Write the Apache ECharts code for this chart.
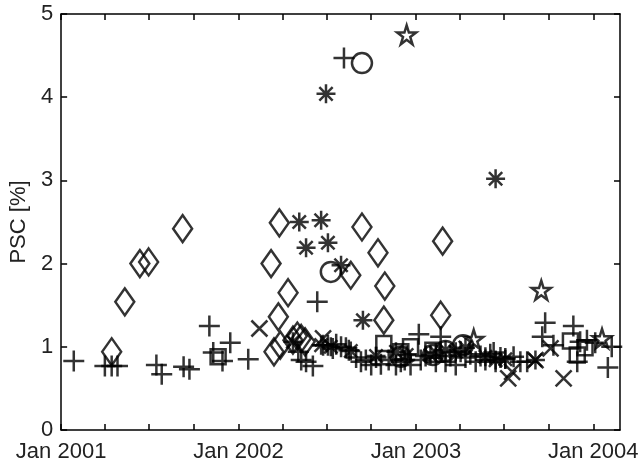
<!DOCTYPE html>
<html>
<head>
<meta charset="utf-8">
<script src="https://cdn.jsdelivr.net/npm/echarts@6/dist/echarts.min.js"></script>
<style>
html, body { margin: 0; padding: 0; background: #fff; }
#chart { width: 642px; height: 469px; }
</style>
</head>
<body>
<div id="chart"></div>
<script>
// PSC values by marker type, [date, %]
var plusPts = [
    ['2001-01-27', 0.83], ['2001-04-01', 0.77], ['2001-04-15', 0.77], ['2001-04-27', 0.77],
    ['2001-07-16', 0.78], ['2001-07-27', 0.67], ['2001-09-10', 0.76], ['2001-09-22', 0.73],
    ['2001-11-02', 1.25], ['2001-11-10', 0.93], ['2001-11-29', 0.83], ['2001-12-15', 1.05],
    ['2002-01-21', 0.85], ['2002-05-04', 0.94], ['2002-05-10', 0.84], ['2002-05-20', 0.82],
    ['2002-06-03', 0.77], ['2002-06-12', 1.54], ['2002-06-24', 1.02], ['2002-07-04', 1.02],
    ['2002-07-14', 0.98], ['2002-07-21', 1.03], ['2002-07-31', 1.00], ['2002-08-06', 4.47],
    ['2002-08-10', 0.99], ['2002-08-16', 0.96], ['2002-08-31', 0.87], ['2002-09-10', 0.82],
    ['2002-09-20', 0.84], ['2002-10-01', 0.78], ['2002-10-11', 0.87], ['2002-10-21', 0.79],
    ['2002-11-06', 0.84], ['2002-11-21', 0.78], ['2002-12-01', 0.82], ['2002-12-09', 0.84],
    ['2002-12-21', 0.78], ['2003-01-07', 1.15], ['2003-01-11', 0.84], ['2003-01-21', 0.89],
    ['2003-02-11', 0.82], ['2003-02-21', 1.12], ['2003-03-03', 0.82], ['2003-03-13', 0.89],
    ['2003-03-24', 0.78], ['2003-04-03', 0.94], ['2003-04-13', 0.87], ['2003-04-23', 0.91],
    ['2003-05-04', 0.82], ['2003-05-14', 0.89], ['2003-05-24', 0.84], ['2003-06-03', 0.91],
    ['2003-06-10', 0.93], ['2003-06-14', 0.82], ['2003-06-24', 0.87], ['2003-07-04', 0.86],
    ['2003-07-21', 0.88], ['2003-08-04', 0.82], ['2003-08-18', 0.82], ['2003-09-18', 1.12],
    ['2003-09-24', 1.29], ['2003-10-11', 1.02], ['2003-11-21', 1.25], ['2003-11-29', 0.82],
    ['2003-12-05', 1.06], ['2003-12-19', 1.08], ['2004-01-05', 1.05], ['2004-01-31', 0.75],
    ['2004-02-08', 1.00]
];
var starPts = [
    ['2002-05-06', 2.50], ['2002-06-20', 2.52], ['2002-05-20', 2.19], ['2002-07-04', 2.25],
    ['2002-07-31', 1.98], ['2002-06-30', 4.04], ['2002-09-14', 1.32], ['2003-06-14', 3.02],
    ['2002-04-23', 1.06], ['2002-06-20', 1.02], ['2002-07-10', 1.00], ['2002-08-20', 0.95],
    ['2002-10-11', 0.89], ['2002-11-21', 0.94], ['2002-12-13', 0.90], ['2003-01-31', 0.90],
    ['2003-02-11', 0.93], ['2003-03-03', 0.96], ['2003-03-24', 0.94], ['2003-04-13', 0.99],
    ['2003-05-24', 0.88], ['2003-06-14', 0.84], ['2003-07-04', 0.85], ['2003-09-04', 0.84]
];
var circlePts = [
    ['2002-07-10', 1.90], ['2002-09-12', 4.41], ['2002-12-01', 0.88], ['2003-02-05', 0.90],
    ['2003-03-03', 0.95], ['2003-04-08', 1.02]
];
var squarePts = [
    ['2001-11-20', 0.88], ['2002-10-27', 1.04], ['2002-12-01', 0.94], ['2002-12-21', 1.00],
    ['2003-02-05', 0.96], ['2003-11-15', 1.07], ['2003-11-29', 0.90], ['2003-12-15', 0.99]
];
var diamondPts = [
    ['2001-04-15', 0.94], ['2001-05-12', 1.54], ['2001-06-12', 2.00], ['2001-06-30', 2.02],
    ['2001-09-08', 2.42], ['2002-03-09', 2.00], ['2002-03-15', 0.94], ['2002-03-24', 1.36],
    ['2002-03-26', 2.49], ['2002-03-28', 1.02], ['2002-04-13', 1.65], ['2002-04-23', 1.08],
    ['2002-05-02', 1.13], ['2002-05-10', 1.10], ['2002-05-18', 1.06], ['2002-08-20', 1.86],
    ['2002-09-12', 2.44], ['2002-10-15', 2.13], ['2002-10-27', 1.32], ['2002-10-29', 1.73],
    ['2003-02-21', 1.38], ['2003-02-25', 2.27]
];
var pentaPts = [
    ['2002-12-13', 4.75], ['2003-04-30', 1.09], ['2003-09-16', 1.68], ['2004-01-19', 1.10]
];
var crossPts = [
    ['2002-02-13', 1.22], ['2002-06-24', 1.10], ['2003-07-10', 0.62], ['2003-07-18', 0.70],
    ['2003-09-04', 0.84], ['2003-10-05', 0.98], ['2003-11-01', 0.62]
];
var yearTicks = ['2001-01-01', '2002-01-01', '2003-01-01', '2004-01-01'];
var quarterTicks = [
    '2001-01-01', '2001-04-01', '2001-07-01', '2001-10-01',
    '2002-01-01', '2002-04-01', '2002-07-01', '2002-10-01',
    '2003-01-01', '2003-04-01', '2003-07-01', '2003-10-01', '2004-01-01'
];
var monthNames = ['Jan','Feb','Mar','Apr','May','Jun','Jul','Aug','Sep','Oct','Nov','Dec'];

function ts(s) {
    var p = s.split('-');
    return new Date(+p[0], +p[1] - 1, +p[2]).getTime();
}

var PLUS = 'path://M5,0L5,10M0,5L10,5';
var CROSS = 'path://M0,0L10,10M10,0L0,10';
var ASTER = 'path://M5,0L5,10M0,5L10,5M1.5,1.5L8.5,8.5M8.5,1.5L1.5,8.5';
var PENTA = 'path://M10,0L12.245,6.91L19.511,6.91L13.633,11.18L15.878,18.09L10,13.82L4.122,18.09L6.367,11.18L0.489,6.91L7.755,6.91Z';

function marks(data, symbol, size) {
    return {
        type: 'scatter',
        data: data.map(function (d) { return [ts(d[0]), d[1]]; }),
        symbol: symbol,
        symbolSize: size,
        silent: true,
        itemStyle: { color: 'rgba(0,0,0,0)', borderColor: '#000', borderWidth: 2.5 },
        emphasis: { disabled: true }
    };
}

var chart = echarts.init(document.getElementById('chart'));
var font = 'Liberation Sans, Arial, sans-serif';
var lineStyle = { color: '#000', width: 1.5 };
var xMin = ts('2001-01-01'), xMax = ts('2004-02-25');

var option = {
    animation: false,
    grid: { left: 59, right: 22, top: 14, bottom: 39 },
    xAxis: [
        {
            type: 'value', min: xMin, max: xMax, position: 'bottom',
            axisLine: { show: true, onZero: false, lineStyle: lineStyle },
            axisTick: { show: true, inside: true, length: 6, customValues: quarterTicks.map(ts), lineStyle: lineStyle },
            axisLabel: {
                customValues: yearTicks.map(ts),
                formatter: function (v) {
                    var d = new Date(v);
                    return monthNames[d.getMonth()] + ' ' + d.getFullYear();
                },
                fontSize: 22, color: '#222', fontFamily: font, margin: 11
            },
            splitLine: { show: false }
        },
        {
            type: 'value', min: xMin, max: xMax, position: 'top',
            axisLine: { show: true, onZero: false, lineStyle: lineStyle },
            axisTick: { show: true, inside: true, length: 6, customValues: quarterTicks.map(ts), lineStyle: lineStyle },
            axisLabel: { show: false },
            splitLine: { show: false }
        }
    ],
    yAxis: [
        {
            type: 'value', min: 0, max: 5, interval: 1, position: 'left',
            name: 'PSC [%]', nameLocation: 'middle', nameGap: 30,
            nameTextStyle: { fontSize: 22, color: '#222', fontFamily: font },
            axisLine: { show: true, lineStyle: lineStyle },
            axisTick: { show: true, inside: true, length: 6, lineStyle: lineStyle },
            axisLabel: { fontSize: 22, color: '#222', fontFamily: font, margin: 8 },
            splitLine: { show: false }
        },
        {
            type: 'value', min: 0, max: 5, interval: 1, position: 'right',
            axisLine: { show: true, lineStyle: lineStyle },
            axisTick: { show: true, inside: true, length: 6, lineStyle: lineStyle },
            axisLabel: { show: false },
            splitLine: { show: false }
        }
    ],
    series: [
        marks(plusPts, PLUS, 21),
        marks(crossPts, CROSS, 16),
        marks(starPts, ASTER, 19),
        marks(squarePts, 'rect', 15),
        marks(circlePts, 'circle', 20),
        marks(diamondPts, 'diamond', [19, 27]),
        marks(pentaPts, PENTA, 19)
    ]
};
chart.setOption(option);
</script>
</body>
</html>
